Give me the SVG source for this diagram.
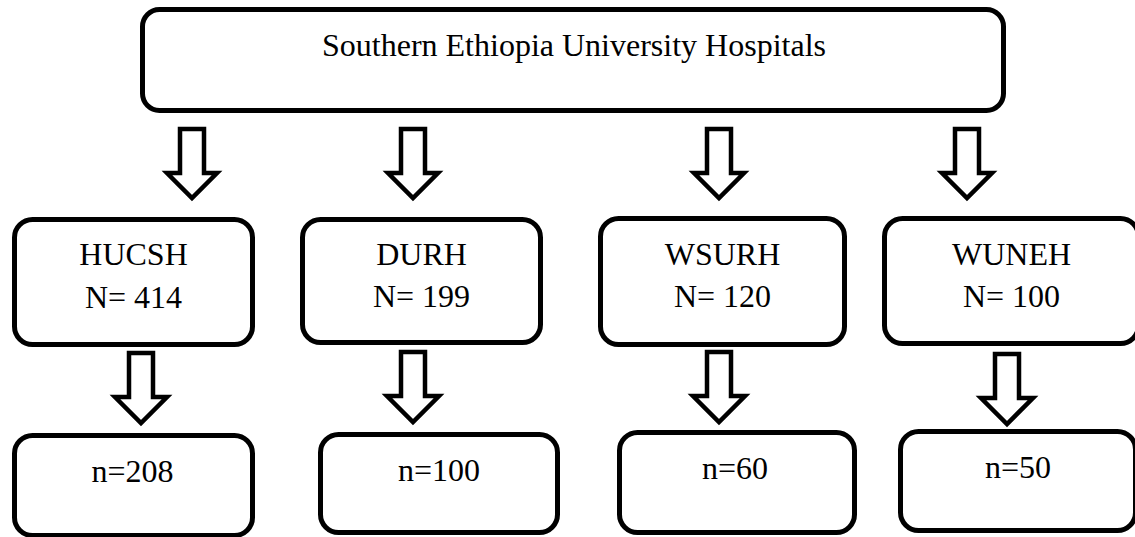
<svg xmlns="http://www.w3.org/2000/svg" width="1135" height="537" viewBox="0 0 1135 537">
<style>
.box{fill:#fff;stroke:#000;stroke-width:5}
.arr{fill:#fff;stroke:#000;stroke-width:4.5;stroke-linejoin:miter}
.t{font-family:"Liberation Serif","Times New Roman",serif;font-size:32px;fill:#000;text-anchor:middle}
.tt{font-family:"Liberation Serif","Times New Roman",serif;font-size:32px;fill:#000;text-anchor:middle}
</style>
<defs>
<path id="a1" d="M-12,0 H12 V44 H25 L0,69 L-25,44 H-12 Z"/>
<path id="a2" d="M-12,0 H12 V44 H26 L0,70 L-26,44 H-12 Z"/>
</defs>
<rect width="1135" height="537" fill="#fff"/>
<g id="connectors">
<use href="#a1" class="arr" x="192" y="129"/>
<use href="#a1" class="arr" x="413" y="129"/>
<use href="#a1" class="arr" x="719" y="129"/>
<use href="#a1" class="arr" x="967" y="129"/>
<use href="#a2" class="arr" x="141" y="353"/>
<use href="#a2" class="arr" x="413" y="352"/>
<use href="#a2" class="arr" x="719" y="352"/>
<use href="#a2" class="arr" x="1007" y="354"/>
</g>
<g id="top">
<rect class="box" x="142.5" y="9.5" width="861" height="101" rx="17"/>
<text class="tt" x="574" y="56">Southern Ethiopia University Hospitals</text>
</g>
<g id="hucsh">
<rect class="box" x="14.5" y="219.5" width="238" height="125" rx="18"/>
<text class="t" x="133.5" y="265">HUCSH</text>
<text class="t" x="133.5" y="308">N= 414</text>
</g>
<g id="durh">
<rect class="box" x="302.5" y="219.5" width="238" height="123" rx="18"/>
<text class="t" x="421.5" y="265">DURH</text>
<text class="t" x="421.5" y="307">N= 199</text>
</g>
<g id="wsurh">
<rect class="box" x="600.5" y="218.5" width="244" height="126" rx="18"/>
<text class="t" x="722.5" y="265">WSURH</text>
<text class="t" x="722.5" y="307">N= 120</text>
</g>
<g id="wuneh">
<rect class="box" x="884.5" y="218.5" width="254" height="125" rx="18"/>
<text class="t" x="1011.5" y="265">WUNEH</text>
<text class="t" x="1011.5" y="307">N= 100</text>
</g>
<g id="n208">
<rect class="box" x="14.5" y="435.5" width="238" height="100" rx="18"/>
<text class="t" x="132.5" y="482">n=208</text>
</g>
<g id="n100">
<rect class="box" x="320.5" y="434.5" width="237" height="98" rx="18"/>
<text class="t" x="439" y="481">n=100</text>
</g>
<g id="n60">
<rect class="box" x="619.5" y="432.5" width="235" height="100" rx="18"/>
<text class="t" x="735" y="479">n=60</text>
</g>
<g id="n50">
<rect class="box" x="900.5" y="431.5" width="235" height="99" rx="18"/>
<text class="t" x="1018" y="478">n=50</text>
</g>
</svg>
